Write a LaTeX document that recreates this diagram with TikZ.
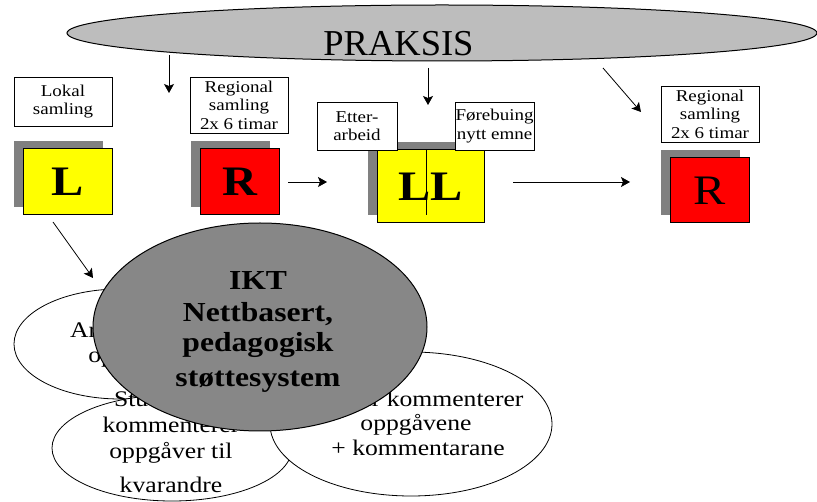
\documentclass[tikz,border=0pt]{standalone}
\usepackage{fontspec}
\setmainfont{Liberation Serif}[FakeStretch=1.15]
\newfontfamily\plainserif{Liberation Serif}
\usetikzlibrary{shapes.geometric,arrows.meta,shadows}
\definecolor{shgray}{HTML}{808080}
\definecolor{praksgray}{HTML}{BDBDBD}
\definecolor{iktgray}{HTML}{878787}
\definecolor{sqyellow}{HTML}{FFFF00}
\definecolor{sqred}{HTML}{FF0000}
\begin{document}
\begin{tikzpicture}[x=1pt,y=-1pt,
  lbl/.style={draw=black, fill=white, line width=0.8pt, inner sep=0pt, align=center,
    font=\fontsize{16.5}{18.5}\selectfont},
  sqbox/.style={draw=black, line width=1pt, inner sep=0pt,
    general shadow={fill=shgray, draw=none, shadow xshift=-9.5pt, shadow yshift=7.5pt}},
  bigbold/.style={font=\fontsize{42}{42}\selectfont\bfseries},
  bigreg/.style={font=\fontsize{42}{42}\selectfont},
  arr/.style={-{Stealth[length=9pt,width=10pt,inset=2pt]}, line width=0.8pt},
  oval/.style={ellipse, draw=black, fill=white, line width=0.8pt, inner sep=0pt},
  otext/.style={font=\fontsize{22.3}{26}\selectfont, anchor=base},
  ikttext/.style={font=\fontsize{27.5}{32}\selectfont\bfseries, anchor=base}]

\useasboundingbox (0,0) rectangle (817,502);

% PRAKSIS
\node[ellipse, draw=black, fill=praksgray, line width=1pt, inner sep=0pt,
  minimum width=750pt, minimum height=56pt] (prak) at (442,33) {};
\node[font=\fontsize{36.5}{36.5}\plainserif, anchor=base] (praktxt) at (398.5,56) {PRAKSIS};

% arrows from PRAKSIS
\coordinate (p1s) at (169,55);  \coordinate (p1e) at (169,93);
\coordinate (p2s) at (428,68);  \coordinate (p2e) at (428,105);
\coordinate (p3s) at (603,68);  \coordinate (p3e) at (641,112);
\draw[arr] (p1s) -- (p1e);
\draw[arr] (p2s) -- (p2e);
\draw[arr] (p3s) -- (p3e);

% squares
\node[sqbox, fill=sqyellow, minimum width=89pt, minimum height=66pt, bigbold] (L) at (67.5,182) {L};
\node[sqbox, fill=sqred, minimum width=79pt, minimum height=66pt, bigbold] (R1) at (239.5,182) {R};
\node[sqbox, fill=sqyellow, minimum width=107pt, minimum height=73pt, bigbold] (LL) at (430.5,186.5) {LL};
\node[sqbox, fill=sqred, minimum width=79pt, minimum height=65pt, bigreg] (R2) at (709.5,190.5) {R};

% label boxes
\node[lbl, minimum width=98pt, minimum height=49pt] (lok) at (63,101.5) {Lokal\\samling};
\node[lbl, minimum width=98pt, minimum height=56pt] (reg1) at (239,105) {Regional\\samling\\2x 6 timar};
\node[lbl, minimum width=80pt, minimum height=48pt] (etter) at (357,126) {Etter-\\arbeid};
\node[lbl, minimum width=79pt, minimum height=48pt] (fore) at (494.5,126) {Førebuing\\nytt emne};
\node[lbl, minimum width=98pt, minimum height=56pt] (reg2) at (710,114) {Regional\\samling\\2x 6 timar};

% LL dividing line
\coordinate (llt) at (426,150); \coordinate (llb) at (426,215);
\draw[line width=0.8pt] (llt) -- (llb);

% arrows between squares
\coordinate (a1s) at (288,182); \coordinate (a1e) at (327,182);
\coordinate (a2s) at (513,182); \coordinate (a2e) at (630,182);
\draw[arr] (a1s) -- (a1e);
\draw[arr] (a2s) -- (a2e);
\coordinate (a3s) at (53,222); \coordinate (a3e) at (93,278);
\draw[arr] (a3s) -- (a3e);

% ellipse A
\node[oval, minimum width=212pt, minimum height=110pt] (elA) at (120,344) {};
\node[otext] (elA1) at (131,338) {Arbeid med};
\node[otext] (elA2) at (136,363) {oppgåver};

% ellipse B
\node[oval, minimum width=240pt, minimum height=106pt] (elB) at (172,448) {};
\node[otext] (elB1) at (171,407) {Studentane};
\node[otext] (elB2) at (171,433) {kommenterer};
\node[otext] (elB3) at (171,459) {oppgåver til};
\node[otext] (elB4) at (171,493) {kvarandre};

% ellipse C
\node[oval, minimum width=282pt, minimum height=144pt] (elC) at (411,424) {};
\node[otext, anchor=base east] (elC1) at (527,407) {Lærar kommenterer};
\node[otext] (elC2) at (416,431) {oppgåvene};
\node[otext] (elC3) at (418,456) {+ kommentarane};

% IKT ellipse
\node[ellipse, draw=black, fill=iktgray, line width=1pt, inner sep=0pt,
  minimum width=334pt, minimum height=208pt] (ikt) at (260,327) {};
\node[ikttext] (ikt1) at (258,290) {IKT};
\node[ikttext] (ikt2) at (258,321.5) {Nettbasert,};
\node[ikttext] (ikt3) at (258,351.5) {pedagogisk};
\node[ikttext] (ikt4) at (258,386.5) {støttesystem};
\end{tikzpicture}
\end{document}
